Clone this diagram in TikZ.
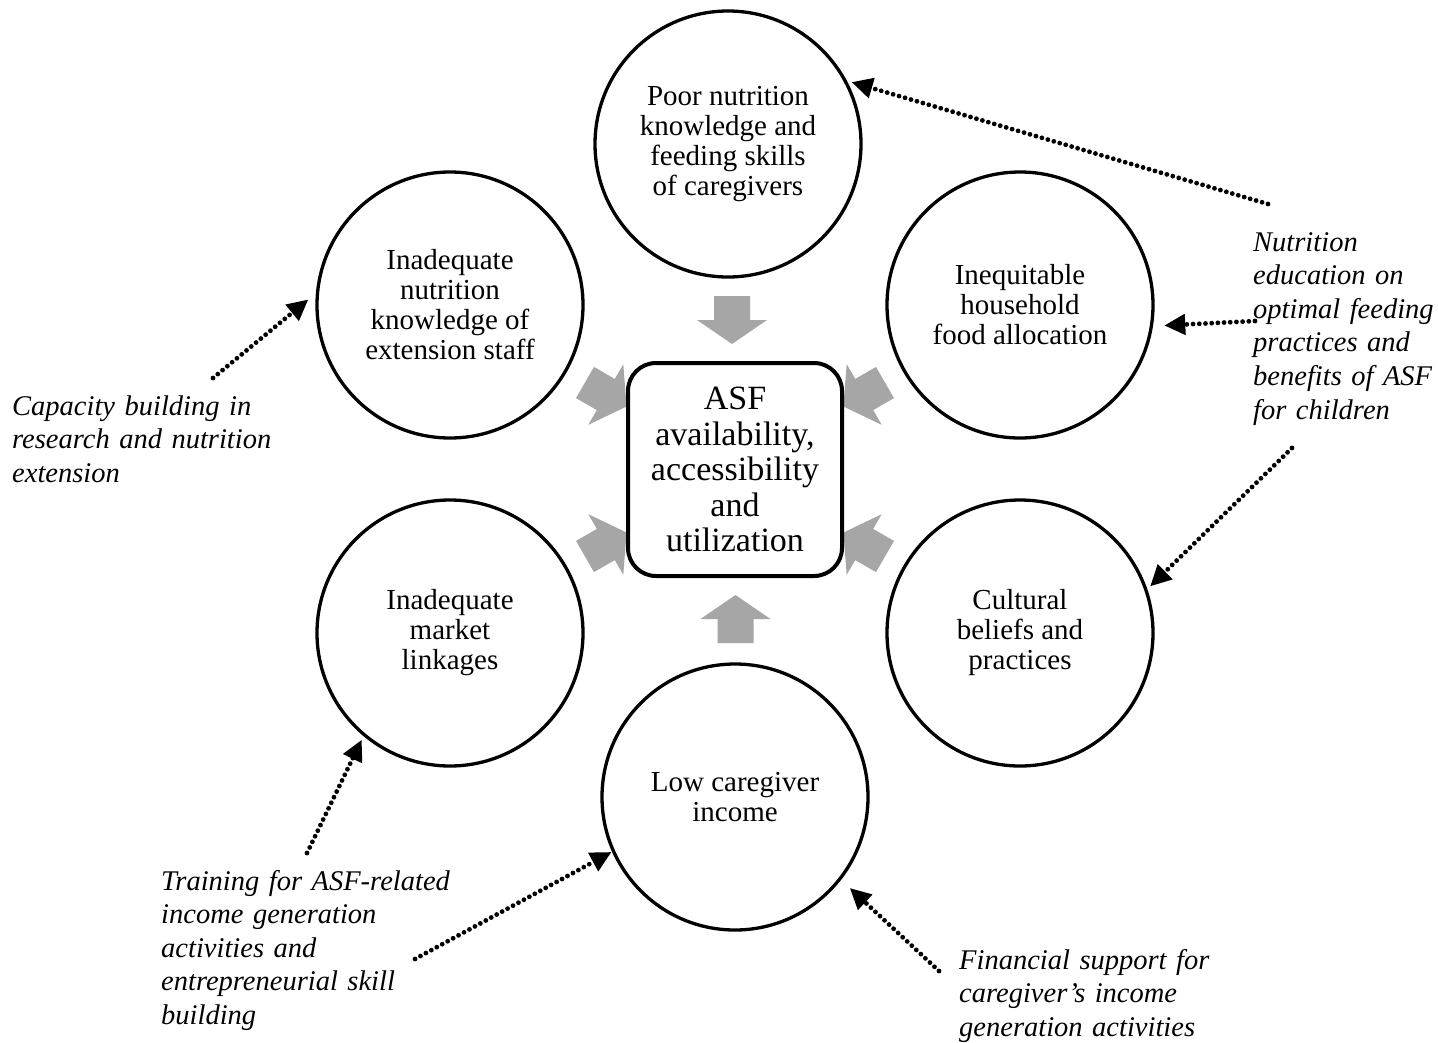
\documentclass[tikz,border=0pt]{standalone}
\usepackage{fontspec}
\setmainfont{Liberation Serif}
\usetikzlibrary{arrows.meta}
\definecolor{blockgray}{RGB}{166,166,166}
\tikzset{
  cause/.style={circle, draw=black, line width=3.3pt, minimum size=266pt, inner sep=0pt, align=center, font=\fontsize{29}{30}\selectfont},
  core/.style={draw=black, line width=4pt, rounded corners=28pt, minimum width=214pt, minimum height=213pt, inner sep=0pt, align=center, fill=white, font=\fontsize{34}{35.5}\selectfont},
  action/.style={anchor=base west, text width=330pt, align=left, inner sep=0pt, font=\fontsize{28.5}{33.6}\selectfont\itshape},
  dotarrow/.style={line width=4.8pt, line cap=round, dash pattern=on 0pt off 6.2pt, -{Triangle[length=21pt,width=20pt]}},
}
\newcommand{\blockarrow}[2]{%
  \fill[blockgray, shift={#1}, rotate=#2] (-24pt,-18pt) -- (0pt,-18pt) -- (0pt,-35pt) -- (24pt,0pt) -- (0pt,35pt) -- (0pt,18pt) -- (-24pt,18pt) -- cycle;}
\begin{document}
\begin{tikzpicture}[x=1pt, y=-1pt]
\useasboundingbox[fill=white] (0,0) rectangle (1438,1042);

% causes
\node[cause] (c1) at (728,144) {Poor nutrition\\knowledge and\\feeding skills\\of caregivers};
\node[cause] (c2) at (450,305) {Inadequate\\nutrition\\knowledge of\\extension staff};
\node[cause] (c3) at (1020,305) {Inequitable\\household\\food allocation};
\node[cause] (c4) at (450,633) {Inadequate\\market\\linkages};
\node[cause] (c5) at (1020,633) {Cultural\\beliefs and\\practices};
\node[cause] (c6) at (735,797) {Low caregiver\\income};

% gray block arrows toward the core
\blockarrow{(732,320)}{-90}
\blockarrow{(735.5,619)}{90}
\blockarrow{(605.8,394.5)}{-30}
\blockarrow{(605.8,544.5)}{30}
\blockarrow{(864.2,394.5)}{-150}
\blockarrow{(864.2,544.5)}{150}

% core
\node[core] (core) at (735,469.5) {ASF\\availability,\\accessibility\\and\\utilization};

% interventions
\node[action] (capacity) at (12,415) {Capacity building in\\research and nutrition\\extension};
\node[action] (training) at (161,890) {Training for ASF-related\\income generation\\activities and\\entrepreneurial skill\\building};
\node[action] (financial) at (959,969) {Financial support for\\caregiver’s income\\generation activities};
\node[action] (education) at (1253,251) {Nutrition\\education on\\optimal feeding\\practices and\\benefits of ASF\\for children};

% arrow start points
\coordinate (n1) at (1268,204);
\coordinate (n2) at (1255,321);
\coordinate (n3) at (1292,448);
\coordinate (k1) at (213,378);
\coordinate (t1) at (307,853);
\coordinate (t2) at (415,959);
\coordinate (f1) at (939,971);

\draw[dotarrow, shorten >=4.9pt] (n1) -- (c1.28);
\draw[dotarrow, shorten >=11.3pt] (n2) -- (c3.-9.5);
\draw[dotarrow, shorten >=4pt] (n3) -- (c5.19.4);
\draw[dotarrow, shorten >=9.8pt] (k1) -- (c2.175.2);
\draw[dotarrow, shorten >=4pt] (t1) -- (c4.230.5);
\draw[dotarrow, shorten >=0.5pt] (t2) -- (c6.204.6);
\draw[dotarrow, shorten >=11.9pt] (f1) -- (c6.-38.4);
\end{tikzpicture}
\end{document}
